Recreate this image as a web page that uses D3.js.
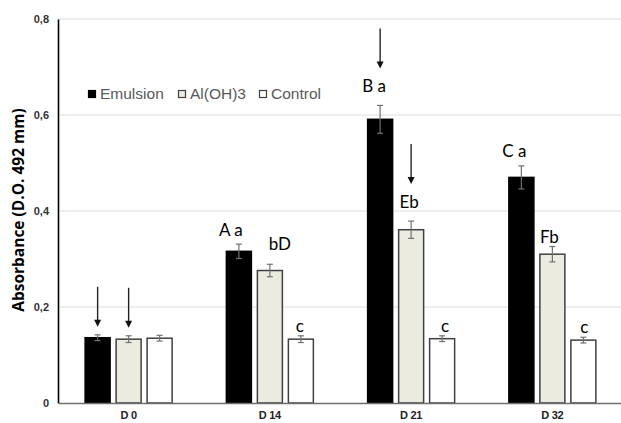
<!DOCTYPE html>
<html>
<head>
<meta charset="utf-8">
<script src="https://cdn.jsdelivr.net/npm/d3@7"></script>
<style>
    body { margin: 0; background: #fff; }
    svg { display: block; }
</style>
</head>
<body>
<script>
// values
const days = ["D 0", "D 14", "D 21", "D 32"];
const seriesNames = ["Emulsion", "Al(OH)3", "Control"];
const emulsion = [0.136, 0.316, 0.591, 0.470];
const emulsionErr = [0.006, 0.015, 0.029, 0.024];
const aluminium = [0.133, 0.276, 0.361, 0.310];
const aluminiumErr = [0.007, 0.013, 0.018, 0.016];
const control = [0.135, 0.133, 0.134, 0.131];
const controlErr = [0.006, 0.007, 0.006, 0.006];
const yTicks = [0, 0.2, 0.4, 0.6, 0.8];

// significance letters: day index, series index, text
const letterDay = [1, 1, 2, 2, 3, 3, 1, 2, 3];
const letterSeries = [0, 1, 0, 1, 0, 1, 2, 2, 2];
const letterText = ["A a", "bD", "B a", "Eb", "C a", "Fb", "c", "c", "c"];
// arrows: day index, series index
const arrowDay = [0, 0, 2, 2];
const arrowSeries = [0, 1, 0, 1];

// placement of the letters (hand-placed text boxes in the original)
const letterDx = [-8, 10, -6, -2, -7, -3, -1, 3, 1];
const letterGap = [8, 14, 13, 13, 9, 4, 4, 4, 4];
const arrowGap = [8, 8, 37, 37];

const W = 621, H = 423;
const margin = { top: 19, right: -2, bottom: 20, left: 58 };

const values = [emulsion, aluminium, control];
const errors = [emulsionErr, aluminiumErr, controlErr];
const fills = ["#000000", "#ecebe0", "#ffffff"];

const svg = d3.select("body").append("svg")
    .attr("width", W)
    .attr("height", H);

const x = d3.scaleBand()
    .domain(days)
    .range([margin.left, W - margin.right]);

const xSub = d3.scaleBand()
    .domain(d3.range(seriesNames.length))
    .range([-43.5, 43.5])
    .paddingInner(6 / 31);

const y = d3.scaleLinear()
    .domain([0, 0.8])
    .range([H - margin.bottom, margin.top]);

function barCenter(di, si) {
    return x(days[di]) + x.bandwidth() / 2 + xSub(si) + xSub.bandwidth() / 2;
}

// gridlines
svg.append("g")
    .selectAll("line")
    .data(yTicks.filter(d => d > 0))
    .enter()
    .append("line")
    .attr("x1", margin.left)
    .attr("x2", W)
    .attr("y1", d => y(d))
    .attr("y2", d => y(d))
    .attr("stroke", "#dedede")
    .attr("stroke-width", 1.2);

// y axis
const yAxis = d3.axisLeft(y)
    .tickValues(yTicks)
    .tickSize(0)
    .tickPadding(9)
    .tickFormat(d => d === 0 ? "0" : d3.format(".1f")(d).replace(".", ","));

svg.append("g")
    .attr("class", "yAxis")
    .attr("transform", "translate(" + margin.left + ",0)")
    .call(yAxis)
    .call(g => g.select(".domain").attr("stroke", "#000").attr("stroke-width", 1.6))
    .selectAll("text")
    .attr("font-family", "Liberation Sans, Arial, sans-serif")
    .attr("font-weight", "bold")
    .attr("font-size", 11)
    .attr("fill", "#333");

svg.append("text")
    .attr("transform", "translate(24," + (y(0.4) - 1) + ") rotate(-90)")
    .attr("text-anchor", "middle")
    .attr("font-family", "'Open Sans', 'Noto Sans', sans-serif")
    .attr("font-weight", "bold")
    .attr("font-size", 15.5)
    .attr("fill", "#000")
    .text("Absorbance (D.O. 492 mm)");

// bars
const groups = svg.selectAll(".day")
    .data(days)
    .enter()
    .append("g")
    .attr("class", "day");

groups.each(function(day, di) {
    const g = d3.select(this);
    seriesNames.forEach(function(name, si) {
        const v = values[si][di];
        const e = errors[si][di];
        const cx = barCenter(di, si);
        g.append("rect")
            .attr("x", cx - xSub.bandwidth() / 2)
            .attr("y", y(v))
            .attr("width", xSub.bandwidth())
            .attr("height", y(0) - y(v))
            .attr("fill", fills[si])
            .attr("stroke", si === 0 ? "#000" : "#404040")
            .attr("stroke-width", 1.5);
        // error bar
        g.append("line")
            .attr("x1", cx).attr("x2", cx)
            .attr("y1", y(v + e)).attr("y2", y(v - e))
            .attr("stroke", "#707070")
            .attr("stroke-width", 1.2);
        [v + e, v - e].forEach(function(t) {
            g.append("line")
                .attr("x1", cx - 3).attr("x2", cx + 3)
                .attr("y1", y(t)).attr("y2", y(t))
                .attr("stroke", "#707070")
                .attr("stroke-width", 1.2);
        });
    });
});

// x axis
const xAxis = d3.axisBottom(x)
    .tickSize(0)
    .tickPadding(8);

svg.append("g")
    .attr("class", "xAxis")
    .attr("transform", "translate(0," + y(0) + ")")
    .call(xAxis)
    .call(g => g.select(".domain").attr("stroke", "#6e6e6e").attr("stroke-width", 1.6))
    .selectAll("text")
    .attr("font-family", "Liberation Sans, Arial, sans-serif")
    .attr("font-weight", "bold")
    .attr("font-size", 11)
    .attr("letter-spacing", -0.3)
    .attr("fill", "#222");

// letters above the bars
svg.append("g")
    .selectAll("text")
    .data(letterText)
    .enter()
    .append("text")
    .attr("x", (d, i) => barCenter(letterDay[i], letterSeries[i]) + letterDx[i])
    .attr("y", (d, i) => {
        const di = letterDay[i], si = letterSeries[i];
        return y(values[si][di] + errors[si][di]) - letterGap[i];
    })
    .attr("text-anchor", "middle")
    .attr("font-family", "Lato, 'Open Sans', sans-serif")
    .attr("font-size", 17)
    .attr("fill", "#000")
    .text(d => d);

// arrows
const arrows = svg.append("g")
    .selectAll("g")
    .data(arrowDay)
    .enter()
    .append("g");

arrows.each(function(di, i) {
    const si = arrowSeries[i];
    const cx = barCenter(di, si);
    const tip = y(values[si][di] + errors[si][di]) - arrowGap[i];
    const g = d3.select(this);
    g.append("line")
        .attr("x1", cx).attr("x2", cx)
        .attr("y1", tip - 40).attr("y2", tip - 6)
        .attr("stroke", "#222")
        .attr("stroke-width", 1.4);
    g.append("path")
        .attr("d", d3.line()([[cx - 3.5, tip - 7], [cx + 3.5, tip - 7], [cx, tip]]) + "Z")
        .attr("fill", "#111");
});

// legend
const legendX = [88, 178, 259];
const legend = svg.append("g")
    .selectAll("g")
    .data(seriesNames)
    .enter()
    .append("g")
    .attr("transform", (d, i) => "translate(" + legendX[i] + ",90)");

legend.append("rect")
    .attr("x", 0.5)
    .attr("y", 0.5)
    .attr("width", 7)
    .attr("height", 7)
    .attr("fill", (d, i) => fills[i])
    .attr("stroke", (d, i) => i === 0 ? "#000" : "#404040")
    .attr("stroke-width", 1.2);

legend.append("text")
    .attr("x", 12)
    .attr("y", 8.5)
    .attr("font-family", "Liberation Sans, Arial, sans-serif")
    .attr("font-size", 15.5)
    .attr("fill", "#595959")
    .text(d => d);
</script>
</body>
</html>
